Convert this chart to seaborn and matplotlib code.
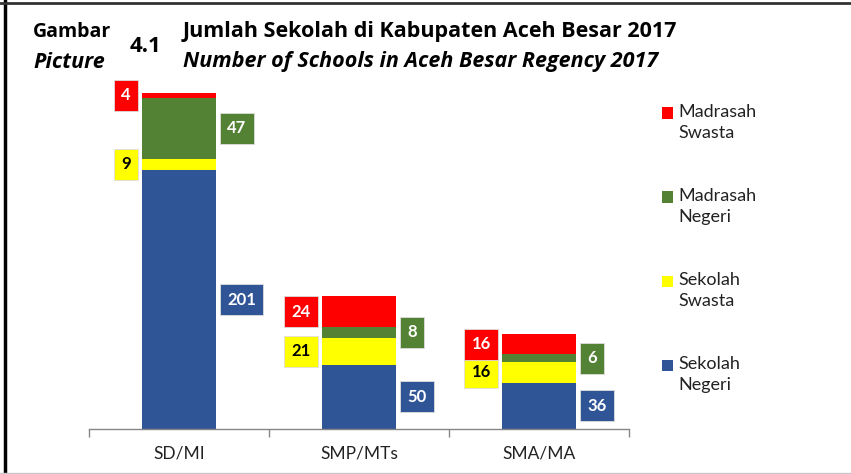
import matplotlib.pyplot as plt
import matplotlib.lines as mlines
import matplotlib.patches as mpatches
import seaborn as sns
import pandas as pd

# data
categories = ["SD/MI", "SMP/MTs", "SMA/MA"]
sekolah_negeri = [201, 50, 36]
sekolah_swasta = [9, 21, 16]
madrasah_negeri = [47, 8, 6]
madrasah_swasta = [4, 24, 16]

series = [
    ("Sekolah\nNegeri", sekolah_negeri, "#2F5597", "white", "right"),
    ("Sekolah\nSwasta", sekolah_swasta, "#FFFF00", "black", "left"),
    ("Madrasah\nNegeri", madrasah_negeri, "#548235", "white", "right"),
    ("Madrasah\nSwasta", madrasah_swasta, "#FF0000", "white", "left"),
]

sns.set_theme(style="white")
plt.rcParams["font.family"] = ["Lato", "DejaVu Sans"]
title_font = ["Open Sans", "DejaVu Sans"]

W, H = 851, 474
fig = plt.figure(figsize=(W / 100, H / 100), dpi=100)
ax = fig.add_axes([89 / W, (H - 429) / H, 540 / W, (429 - 80) / H])

bar_w = 0.41
bottom = [0] * len(categories)
for name, vals, color, txt_color, side in series:
    df = pd.DataFrame({"cat": categories, "val": vals})
    sns.barplot(data=df, x="cat", y="val", color=color, width=bar_w,
                bottom=bottom, saturation=1, edgecolor=color, linewidth=0, ax=ax)
    for i, v in enumerate(vals):
        mid = bottom[i] + v / 2
        if side == "left":
            xy, off, ha = (i - bar_w / 2, mid), (-8, 0), "right"
        else:
            xy, off, ha = (i + bar_w / 2, mid), (8, 0), "left"
        ax.annotate(str(v), xy=xy, xytext=off, textcoords="offset points",
                    ha=ha, va="center", fontsize=12, fontweight="bold",
                    color=txt_color,
                    bbox=dict(boxstyle="square,pad=0.45", fc=color,
                              ec="#dddddd", lw=0.6))
    bottom = [b + v for b, v in zip(bottom, vals)]

ax.set_xlim(-0.5, 2.5)
ax.set_ylim(0, 271)
ax.set_xlabel("")
ax.set_ylabel("")
ax.set_yticks([])
ax.set_xticks([-0.5, 0.5, 1.5, 2.5])
ax.set_xticklabels([])
ax.set_xticks(range(len(categories)), minor=True)
ax.set_xticklabels(categories, minor=True, fontsize=12.5, color="#222222")
ax.tick_params(axis="x", which="major", direction="out", length=6,
               color="#868686", width=1, bottom=True)
ax.tick_params(axis="x", which="minor", length=0, pad=12)
for s in ["top", "right", "left"]:
    ax.spines[s].set_visible(False)
ax.spines["bottom"].set_color("#868686")
ax.spines["bottom"].set_linewidth(1)

# manual legend (marker on the first line of each label)
leg_y = [113, 197, 281, 365]
for (name, vals, color, _, _), y in zip(series[::-1], leg_y):
    fig.add_artist(mpatches.Rectangle((662 / W, 1 - (y + 5.5) / H), 11 / W, 11 / H,
                                      transform=fig.transFigure, fc=color, ec="none"))
    fig.text(678 / W, 1 - (y - 9) / H, name, ha="left", va="top",
             fontsize=13, color="#222222", linespacing=1.4)

# titles
fig.text(33 / W, 1 - 32 / H, "Gambar", fontsize=14, fontweight="bold",
         family=title_font, va="center", ha="left", color="black")
fig.text(33 / W, 1 - 62 / H, "Picture", fontsize=15.5, fontweight="bold",
         family=title_font, style="italic", va="center", ha="left", color="black")
fig.text(130 / W, 1 - 46 / H, "4.1", fontsize=16, fontweight="bold",
         family=title_font, va="center", ha="left", color="black")
fig.text(183 / W, 1 - 31 / H, "Jumlah Sekolah di Kabupaten Aceh Besar 2017",
         fontsize=15.5, fontweight="bold", family=title_font,
         va="center", ha="left", color="black")
fig.text(183 / W, 1 - 61 / H, "Number of Schools in Aceh Besar Regency 2017",
         fontsize=15.5, fontweight="bold", style="italic", family=title_font,
         va="center", ha="left", color="black")

# frame lines of the original page
fig.add_artist(mlines.Line2D([4.5 / W, 4.5 / W], [0, 1], color="black", lw=2.5,
                             transform=fig.transFigure))
fig.add_artist(mlines.Line2D([0, 1], [1 - 2.5 / H, 1 - 2.5 / H], color="#333333",
                             lw=2, transform=fig.transFigure))
fig.add_artist(mlines.Line2D([0, 1], [1 - 472.5 / H, 1 - 472.5 / H], color="#c8c8c8",
                             lw=1, transform=fig.transFigure))

fig.savefig("out.png", dpi=100)
